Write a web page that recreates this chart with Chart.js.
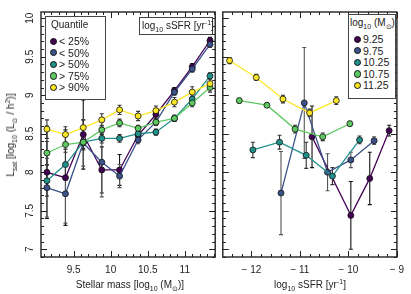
<!DOCTYPE html>
<html>
<head>
<meta charset="utf-8">
<script src="https://cdn.jsdelivr.net/npm/chart.js@4.4.0/dist/chart.umd.min.js"></script>
<style>
  body { margin: 0; background: #fff; font-family: "Liberation Sans", Arial, sans-serif; color: #222; }
  #wrap { position: relative; width: 411px; height: 294px; overflow: hidden; }
  canvas { position: absolute; top: 0; }
  .box { position: absolute; background: #fff; border: 1px solid #444; box-sizing: border-box; }
  .txt { position: absolute; font-size: 10px; line-height: 12px; white-space: nowrap; }
  .item { font-size: 10.5px; }
  .dot { position: absolute; width: 5.4px; height: 5.4px; border-radius: 50%; border: 0.8px solid #111; }
  sub, sup { font-size: 7px; line-height: 0; }
</style>
</head>
<body>
<div id="wrap">
  <canvas id="left" width="220" height="294" style="left:0"></canvas>
  <canvas id="right" width="193" height="294" style="left:218px"></canvas>
</div>
<script>
// left panel: Lsat vs stellar mass, split by sSFR quantile
const massBins = [9.14, 9.39, 9.63, 9.88, 10.12, 10.37, 10.61, 10.86, 11.1, 11.34];
const quantileLabels = ['< 25%', '< 50%', '> 50%', '> 75%', '> 90%'];
const lsatQ25 = [8.0, 7.93, 8.49, 8.03, 8.03, 8.48, 8.75, 9.06, 9.37, 9.71];
const lsatQ50lo = [7.80, 7.72, 8.38, 8.13, 7.95, 8.42, 8.65, 9.04, 9.34, 9.66];
const lsatQ50hi = [7.89, 8.10, 8.39, 8.44, 8.44, 8.50, 8.52, 8.70, 8.95, 9.25];
const lsatQ75 = [8.25, 8.36, 8.39, 8.55, 8.64, 8.57, 8.65, 8.70, 8.90, 9.10];
const lsatQ90 = [8.56, 8.49, 8.58, 8.68, 8.81, 8.73, 8.80, 8.91, 9.04, 9.15];
const errQ25 = [0.6, 0.62, 0.45, 0.3, 0.2, 0.06, 0.05, 0.04, 0.04, 0.04];
const errQ50lo = [0.38, 0.38, 0.3, 0.45, 0.15, 0.05, 0.04, 0.04, 0.04, 0.04];
const errQ50hi = [0.2, 0.2, 0.1, 0.06, 0.05, 0.04, 0.04, 0.04, 0.04, 0.04];
const errQ75 = [0.15, 0.1, 0.08, 0.06, 0.05, 0.04, 0.04, 0.04, 0.05, 0.06];
const errQ90 = [0.12, 0.1, 0.1, 0.08, 0.06, 0.06, 0.06, 0.06, 0.07, 0.06];

// right panel: Lsat vs sSFR, split by stellar mass bin
const massLabels = ['9.25', '9.75', '10.25', '10.75', '11.25'];
const ssfrM925 = [-10.75, -9.95, -9.56, -9.16];
const lsatM925 = [8.46, 7.44, 7.92, 8.54];
const errM925 = [0.4, 0.44, 0.34, 0.07];
const ssfrM975 = [-11.39, -10.91, -10.43, -9.95, -9.47];
const lsatM975 = [7.73, 8.90, 8.00, 8.16, 8.41];
const errM975 = [0.54, 0.72, 0.24, 0.1, 0.05];
const ssfrM1025 = [-11.97, -11.42, -10.87, -10.33, -9.77];
const lsatM1025 = [8.29, 8.39, 8.22, 7.95, 8.42];
const errM1025 = [0.1, 0.09, 0.17, 0.11, 0.05];
const ssfrM1075 = [-12.25, -11.68, -11.10, -10.53, -9.97];
const lsatM1075 = [8.93, 8.87, 8.56, 8.46, 8.63];
const errM1075 = [0.03, 0.03, 0.05, 0.05, 0.03];
const ssfrM1125 = [-12.45, -11.90, -11.35, -10.80, -10.25];
const lsatM1125 = [9.45, 9.23, 8.95, 8.77, 8.93];
const errM1125 = [0.04, 0.04, 0.05, 0.05, 0.05];

const yTicks = [7, 7.5, 8, 8.5, 9, 9.5, 10];
const massTicks = [9.5, 10, 10.5, 11];
const ssfrTicks = [-12, -11, -10, -9];

const colors = ['#440154', '#3b528b', '#21918c', '#5ec962', '#fde725'];
const errColors = ['#111', '#555', '#333', '#333', '#333'];
const FONT = {family: '"Liberation Sans", Arial, sans-serif', size: 10};

function series(xs, ys, errs, i) {
  return {
    data: xs.map((x, j) => ({x: x, y: ys[j]})),
    err: errs,
    errColor: errColors[i],
    borderColor: colors[i],
    backgroundColor: colors[i],
    pointBackgroundColor: colors[i],
    pointBorderColor: '#111',
    pointBorderWidth: 0.8,
    pointRadius: 3,
    borderWidth: 1.3,
    showLine: true,
    tension: 0,
    order: 5 - i
  };
}

// error bars, drawn through the chart scales
const errPlugin = {
  id: 'errbars',
  beforeDatasetsDraw(chart) {
    const {ctx, scales: {x, y}} = chart;
    ctx.save();
    chart.data.datasets.forEach(ds => {
      ctx.strokeStyle = ds.errColor;
      ctx.lineWidth = 1.1;
      ds.data.forEach((p, j) => {
        const e = ds.err[j];
        const px = x.getPixelForValue(p.x);
        const y0 = y.getPixelForValue(p.y - e), y1 = y.getPixelForValue(p.y + e);
        ctx.beginPath();
        ctx.moveTo(px, y0); ctx.lineTo(px, y1);
        ctx.moveTo(px - 2, y0); ctx.lineTo(px + 2, y0);
        ctx.moveTo(px - 2, y1); ctx.lineTo(px + 2, y1);
        ctx.stroke();
      });
    });
    ctx.restore();
  }
};

// box frame with inward major / minor ticks on all sides
const framePlugin = {
  id: 'frame',
  beforeDatasetsDraw(chart, args, opts) {
    const {ctx, chartArea: a, scales: {x, y}} = chart;
    ctx.save();
    ctx.strokeStyle = '#222';
    ctx.lineWidth = 1;
    const line = (x0, y0, x1, y1) => { ctx.beginPath(); ctx.moveTo(x0, y0); ctx.lineTo(x1, y1); ctx.stroke(); };
    const minor = (min, max, step) => {
      const out = [];
      for (let v = Math.ceil(min / step) * step; v <= max + 1e-9; v += step) out.push(v);
      return out;
    };
    minor(x.min, x.max, opts.xMinor).forEach(v => {
      const px = Math.round(x.getPixelForValue(v)) + 0.5;
      line(px, a.bottom, px, a.bottom - 3); line(px, a.top, px, a.top + 3);
    });
    opts.xMajor.forEach(v => {
      const px = Math.round(x.getPixelForValue(v)) + 0.5;
      line(px, a.bottom, px, a.bottom - 6); line(px, a.top, px, a.top + 6);
    });
    minor(y.min, y.max, 0.1).forEach(v => {
      const py = Math.round(y.getPixelForValue(v)) + 0.5;
      line(a.left, py, a.left + 3, py); line(a.right, py, a.right - 3, py);
    });
    yTicks.forEach(v => {
      const py = Math.round(y.getPixelForValue(v)) + 0.5;
      line(a.left, py, a.left + 6, py); line(a.right, py, a.right - 6, py);
    });
    ctx.lineWidth = 1.4;
    ctx.strokeRect(a.left, a.top, a.right - a.left, a.bottom - a.top);
    ctx.restore();
  }
};

const baseX = (min, max, ticks, fmt) => ({
  type: 'linear', min: min, max: max,
  grid: {display: false, drawTicks: false},
  border: {display: false},
  ticks: {font: FONT, color: '#222', padding: 7, callback: fmt},
  afterBuildTicks: s => { s.ticks = ticks.map(v => ({value: v})); },
  afterFit: s => { s.height = 37; }
});

new Chart(document.getElementById('left'), {
  type: 'line',
  data: {
    datasets: [
      series(massBins, lsatQ25, errQ25, 0),
      series(massBins, lsatQ50lo, errQ50lo, 1),
      series(massBins, lsatQ50hi, errQ50hi, 2),
      series(massBins, lsatQ75, errQ75, 3),
      series(massBins, lsatQ90, errQ90, 4)
    ]
  },
  options: {
    responsive: false,
    animation: false,
    layout: {padding: {top: 12, right: 1, left: 0, bottom: 0}},
    plugins: {legend: {display: false}, tooltip: {enabled: false},
      frame: {xMajor: massTicks, xMinor: 0.1}},
    scales: {
      x: baseX(9.06, 11.41, massTicks, v => String(v)),
      y: {
        type: 'linear', min: 6.9, max: 10.08,
        grid: {display: false, drawTicks: false},
        border: {display: false},
        ticks: {font: FONT, color: '#222', padding: 4, minRotation: 90, maxRotation: 90,
          crossAlign: 'center', callback: v => String(v)},
        afterBuildTicks: s => { s.ticks = yTicks.map(v => ({value: v})); },
        afterFit: s => { s.width = 41; }
      }
    }
  },
  plugins: [framePlugin, errPlugin]
});

new Chart(document.getElementById('right'), {
  type: 'line',
  data: {
    datasets: [
      series(ssfrM925, lsatM925, errM925, 0),
      series(ssfrM975, lsatM975, errM975, 1),
      series(ssfrM1025, lsatM1025, errM1025, 2),
      series(ssfrM1075, lsatM1075, errM1075, 3),
      series(ssfrM1125, lsatM1125, errM1125, 4)
    ]
  },
  options: {
    responsive: false,
    animation: false,
    layout: {padding: {top: 12, right: 11, left: 1, bottom: 0}},
    plugins: {legend: {display: false}, tooltip: {enabled: false},
      frame: {xMajor: ssfrTicks, xMinor: 0.2}},
    scales: {
      x: baseX(-12.59, -9.0, ssfrTicks, v => '\u2212 ' + Math.abs(v)),
      y: {type: 'linear', min: 6.9, max: 10.08, display: false}
    }
  },
  plugins: [framePlugin, errPlugin]
});

// text overlays: axis titles, legends, label box
const wrap = document.getElementById('wrap');
function addText(html, x, y, cls, extra) {
  const d = document.createElement('div');
  d.className = cls || 'txt';
  d.innerHTML = html;
  d.style.left = x + 'px';
  d.style.top = y + 'px';
  if (extra) Object.assign(d.style, extra);
  wrap.appendChild(d);
  return d;
}
function addBox(x, y, w, h) {
  const b = document.createElement('div');
  b.className = 'box';
  Object.assign(b.style, {left: x + 'px', top: y + 'px', width: w + 'px', height: h + 'px'});
  wrap.appendChild(b);
}
function addLegend(x, y, w, h, title, titleX, labels, dotX) {
  addBox(x, y, w, h);
  addText(title, titleX, y + 3);
  labels.forEach((lab, i) => {
    const cy = y + 25 + i * 11.6;
    const d = document.createElement('div');
    d.className = 'dot';
    Object.assign(d.style, {left: (dotX - 3.5) + 'px', top: (cy - 3.5) + 'px', background: colors[i]});
    wrap.appendChild(d);
    addText(lab, dotX + 6, cy - 6, 'txt item');
  });
}

addText('Stellar mass [log<sub>10</sub> (M<sub>\u2299</sub>)]', 130, 279, 'txt',
  {transform: 'translateX(-50%)'});
addText('log<sub>10</sub> sSFR [yr<sup>-1</sup>]', 310, 279, 'txt',
  {transform: 'translateX(-50%)'});
addText('L<sub>sat</sub> [log<sub>10</sub> (L<sub>\u2299</sub> / h<sup>2</sup>)]', 11, 135, 'txt',
  {transform: 'translate(-50%, -50%) rotate(-90deg)'});

addBox(139, 17, 74, 18);
addText('log<sub>10</sub> sSFR [yr<sup>-1</sup>]', 142, 20);

addLegend(45, 16, 61, 84, 'Quantile', 51, quantileLabels, 53);
addLegend(348, 14, 48, 85, 'log<sub>10</sub> (M<sub>\u2299</sub>)', 350, massLabels, 357);
</script>
</body>
</html>
